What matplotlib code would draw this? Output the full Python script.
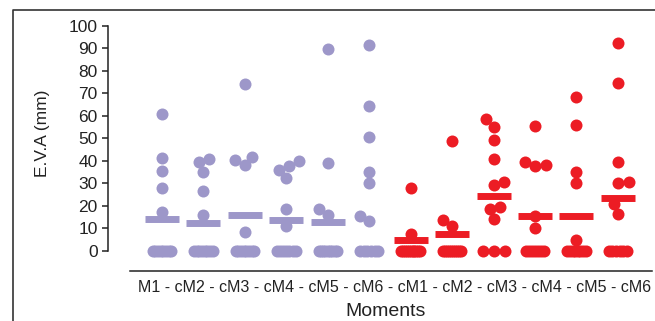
import math
import matplotlib
matplotlib.use("Agg")
import matplotlib.pyplot as plt
from matplotlib.lines import Line2D

plt.rcParams['font.family'] = ['Liberation Sans', 'DejaVu Sans']

# ---------------- data ----------------
labels = ["M1", "cM2", "cM3", "cM4", "cM5", "cM6",
          "cM1", "cM2", "cM3", "cM4", "cM5", "cM6"]

g1 = [41.3, 60.9, 35.6, 28.0, 17.3, 0, 0, 0, 0, 0, 0, 0, 0]
g2 = [39.5, 41.0, 35.2, 26.7, 16.0, 0, 0, 0, 0, 0, 0, 0, 0]
g3 = [74.2, 40.4, 38.2, 41.8, 8.4, 0, 0, 0, 0, 0, 0, 0, 0]
g4 = [18.7, 37.8, 40.0, 36.0, 32.5, 11.1, 0, 0, 0, 0, 0, 0, 0]
g5 = [89.8, 39.2, 18.7, 16.0, 0, 0, 0, 0, 0, 0, 0, 0, 0]
g6 = [91.6, 64.6, 50.8, 35.0, 30.0, 15.5, 13.3, 0, 0, 0, 0, 0, 0]
g7 = [28.0, 7.5, 0, 0, 0, 0, 0, 0, 0, 0, 0, 0, 0]
g8 = [49.0, 13.8, 11.0, 0, 0, 0, 0, 0, 0, 0, 0, 0, 0]
g9 = [58.5, 55.1, 49.3, 40.9, 29.3, 30.7, 18.7, 19.6, 14.2, 0, 0, 0]
g10 = [55.6, 39.5, 37.8, 38.2, 15.6, 10.2, 0, 0, 0, 0, 0, 0, 0]
g11 = [68.4, 56.0, 35.1, 30.2, 4.9, 0, 0, 0, 0, 0, 0, 0, 0]
g12 = [92.4, 74.7, 39.6, 30.2, 30.7, 20.9, 16.4, 0, 0, 0, 0, 0, 0]
groups = [g1, g2, g3, g4, g5, g6, g7, g8, g9, g10, g11, g12]

# mean line per group as drawn (group 6 shows none)
means = [14.2, 12.3, 16.0, 13.8, 13.0, None, 5.0, 7.5, 24.4, 15.6, 15.6, 23.6]

y_ticks = [0, 10, 20, 30, 40, 50, 60, 70, 80, 90, 100]

# ---------------- style ----------------
PURPLE = "#9D97C9"
RED = "#EC1C24"
colors = [PURPLE] * 6 + [RED] * 6

W, H = 655, 321
fig = plt.figure(figsize=(W / 100, H / 100), dpi=100)

# axes placement in pixels
L, R = 108, 652
top_px, bot_px = 19.25, 271
ax = fig.add_axes([L / W, 1 - bot_px / H, (R - L) / W, (bot_px - top_px) / H])
ax.set_xlim(-1.3028, 11.8215)
ax.set_ylim(-8.89, 103)

for s in ["top", "right"]:
    ax.spines[s].set_visible(False)
ax.spines["left"].set_bounds(0, 100)
ax.spines["bottom"].set_bounds(-0.772, 11.8215)
for s in ["left", "bottom"]:
    ax.spines[s].set_linewidth(1.1)
    ax.spines[s].set_color("#222222")

ax.set_yticks(y_ticks)
ax.set_yticklabels([str(t) for t in y_ticks], fontsize=12.5, color="#222222")
ax.tick_params(axis="y", length=4.5, width=1.1, color="#222222", pad=3)
ax.set_xticks([])

# pixel scales
x0, y0 = ax.transData.transform((0, 0))
x1, y1 = ax.transData.transform((1, 1))
xpx = x1 - x0
ypx = y1 - y0

D = 10.8       # collision distance in px
ROWSTEP = 11.5 # spacing of tied points in a short row, px
BAR = 18.5     # max centre span of a crowded row, px


def layout(values):
    """Tied values form a row; crowded rows are compressed into a bar.
    Remaining points are swarmed around the ones already placed."""
    offs = [None] * len(values)
    placed = []
    counts = {}
    for v in values:
        counts[v] = counts.get(v, 0) + 1
    for v, n in counts.items():
        if n < 2:
            continue
        idx = [k for k, u in enumerate(values) if u == v]
        span = min((n - 1) * ROWSTEP, 22.0) if n <= 3 else BAR
        for j, k in enumerate(idx):
            o = -span / 2 + span * j / (n - 1)
            offs[k] = o
            placed.append((o, v * ypx))
    order = sorted([k for k in range(len(values)) if offs[k] is None],
                   key=lambda k: values[k])
    for k in order:
        y = values[k] * ypx
        cands = [0.0]
        near = None
        for (px, py) in placed:
            dy = y - py
            if abs(dy) < D:
                dx = math.sqrt(D * D - dy * dy)
                cands += [px + dx, px - dx]
                if near is None or abs(dy) < near:
                    near = abs(dy)
        pref = 1 if (near is not None and near < 3.5) else -1
        cands.sort(key=lambda c: (round(abs(c), 6), -pref * c))
        chosen = cands[-1]
        for c in cands:
            if all((c - px) ** 2 + (y - py) ** 2 >= D * D - 1e-6 for px, py in placed):
                chosen = c
                break
        chosen = max(-16, min(16, chosen))
        placed.append((chosen, y))
        offs[k] = chosen
    return offs


ms = 12.0 * 72 / 100
for i, vals in enumerate(groups):
    offs = layout(vals)
    xs = [i + o / xpx for o in offs]
    ax.plot(xs, vals, linestyle="none", marker="o", markersize=ms,
            markeredgewidth=0, color=colors[i], zorder=2, clip_on=False)
    if means[i] is not None:
        hw = 17.0 / xpx
        ax.plot([i - hw, i + hw], [means[i], means[i]], color=colors[i],
                linewidth=5.0, solid_capstyle="butt", zorder=3)

# text
fig.text(42 / W, 1 - 133 / H, "E.V.A (mm)", rotation=90, ha="center",
         va="center", fontsize=12.5, color="#222222")
fig.text(395 / W, 1 - 287 / H, " - ".join(labels), ha="center", va="center",
         fontsize=11.5, color="#222222")
fig.text(386 / W, 1 - 311 / H, "Moments", ha="center", va="center",
         fontsize=14, color="#222222")

# outer frame (left and top edges visible)
fx = 13 / W
fy = 1 - 10 / H
fig.add_artist(Line2D([fx, fx, 1.01], [-0.01, fy, fy], transform=fig.transFigure,
                      color="#333333", linewidth=1.2))

fig.savefig("out.png", dpi=100)
